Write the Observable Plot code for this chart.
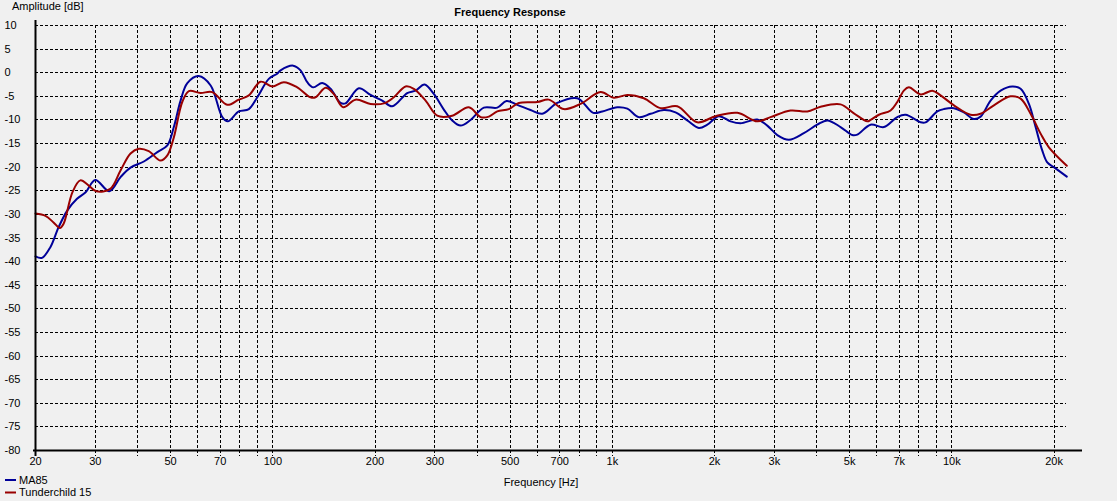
<!DOCTYPE html>
<html><head><meta charset="utf-8">
<script src="https://cdn.jsdelivr.net/npm/d3@7"></script>
<script src="https://cdn.jsdelivr.net/npm/@observablehq/plot@0.6"></script>
<style>
html,body{margin:0;padding:0;background:#f0f0f0;}
#chart{width:1117px;height:501px;}
svg{display:block}
</style></head><body><div id="chart"></div>
<script>
const seriesNames = ["MA85", "Tunderchild 15"];
const seriesColors = ["#000099", "#990000"];

const ma85Freq = [20, 20.9, 22.1, 23.4, 24.8, 26.5, 28.1, 30, 33, 35.6, 38.1, 41.7, 45.7, 48.9, 51.1, 53.5, 56, 60.5, 65.6, 71, 73.7, 79.4, 85, 90, 97.3, 103, 105.4, 114.8, 120.7, 126.3, 131.5, 139.8, 147.9, 158.3, 163.7, 179.2, 194, 210, 224.7, 248.8, 263.2, 279.8, 298, 318.9, 337.6, 357.2, 382.3, 418.4, 458.2, 487.9, 524.7, 574.1, 621.6, 688.2, 788.2, 878.5, 934, 1034, 1107, 1197, 1296, 1418, 1535, 1662, 1798, 1904, 2059, 2229, 2386, 2672, 2860, 3061, 3311, 3664, 4014, 4297, 4700, 5089, 5266, 5761, 6306, 6905, 7305, 8090, 8369, 9057, 9471, 10139, 10850, 11606, 12148, 13002, 13917, 15062, 15938, 16861, 17645, 18464, 19097, 19968, 21800];
const ma85Db = [-38.9, -39.2, -37, -32.7, -29.2, -26.7, -25.3, -22.7, -25.1, -22.1, -20.1, -18.8, -16.8, -15.4, -11.5, -5.9, -2.2, -0.7, -2.7, -9.4, -10.3, -8.2, -7.7, -5.2, -1.3, -0.2, 0.5, 1.5, 0.5, -2, -3.1, -2.2, -3.4, -6.4, -6.5, -3.3, -4.7, -5.9, -7.1, -4.3, -3.8, -2.5, -4.5, -7.8, -10.1, -11.2, -10, -7.4, -7.4, -6, -6.8, -7.9, -8.7, -6.4, -5.4, -8.5, -8.2, -7.3, -7.6, -9.4, -8.7, -7.9, -8.4, -10.1, -11.7, -11, -9.2, -10.3, -10.7, -9.9, -11.2, -13.2, -14.2, -12.8, -11, -10.1, -11.5, -13.2, -13.1, -11, -11.5, -9.4, -8.9, -10.5, -10.5, -8.2, -7.7, -7.5, -8.4, -9.8, -9.3, -5.9, -3.8, -2.9, -3.4, -6.6, -11.5, -16.5, -19, -20, -22];

const tunderFreq = [20, 21.4, 22.6, 23.6, 24.2, 25.7, 27.1, 28.7, 30.2, 33.2, 35.6, 38.1, 40.3, 43.1, 46.7, 48.9, 51.1, 54.1, 56.6, 61.2, 66.3, 73.4, 79.4, 85, 92, 99.6, 107.8, 118, 129.1, 133.6, 143, 151.2, 161.2, 175.2, 194, 212.3, 227.2, 246, 260.2, 281.8, 305, 337.6, 377.8, 409.2, 432.8, 458.2, 495.7, 530.4, 601.1, 650, 719.6, 806, 923.3, 1010, 1107, 1238, 1387, 1553, 1778, 2014, 2334, 2672, 2924, 3348, 3751, 4105, 4700, 5145, 5635, 5761, 6096, 6598, 6905, 7220, 7470, 8090, 8758, 9262, 10139, 11350, 12148, 13296, 14890, 15938, 17056, 18253, 19307, 21800];
const tunderDb = [-29.8, -30.3, -31.7, -32.9, -32, -25.3, -22.8, -23.9, -25.1, -24.6, -20.7, -17.1, -16.1, -16.6, -18.6, -17.5, -13.7, -6.2, -3.9, -4.3, -4.1, -6.8, -5.7, -4.8, -1.9, -2.9, -2, -3.1, -5.2, -5.2, -3.2, -4.5, -7.3, -5.7, -6.6, -6.5, -5.2, -2.9, -3.4, -5.9, -9.1, -9.1, -7.3, -9.4, -9.3, -8.2, -7.7, -6.4, -6.2, -5.7, -7.7, -6.6, -4.1, -5.3, -4.7, -5.4, -7.5, -7.1, -10.5, -9.2, -8.5, -10.3, -9.4, -8, -8.2, -7.2, -6.7, -8.6, -10.3, -10, -8.9, -8, -6.2, -3.8, -3.1, -4.6, -3.8, -4.8, -6.9, -8.9, -8.7, -6.9, -5, -5.5, -8.7, -12.9, -15.8, -19.7];

const yTicks = [10, 5, 0, -5, -10, -15, -20, -25, -30, -35, -40, -45, -50, -55, -60, -65, -70, -75, -80];
const xGrid = [30, 40, 50, 60, 70, 80, 90, 100, 200, 300, 400, 500, 600, 700, 800, 900, 1000, 2000, 3000, 4000, 5000, 6000, 7000, 8000, 9000, 10000, 20000];
const xTickValues = [20, 30, 50, 70, 100, 200, 300, 500, 700, 1000, 2000, 3000, 5000, 7000, 10000, 20000];
const xTickLabels = ["20", "30", "50", "70", "100", "200", "300", "500", "700", "1k", "2k", "3k", "5k", "7k", "10k", "20k"];

const titleText = "Frequency Response";
const xLabelText = "Frequency [Hz]";
const yLabelText = "Amplitude [dB]";

const fMin = 20, fGridMax = 21800, fAxisMax = 24250;
const dbMin = -80, dbMax = 10;

const rows = [
  ...ma85Freq.map((f, i) => ({series: seriesNames[0], f, db: ma85Db[i]})),
  ...tunderFreq.map((f, i) => ({series: seriesNames[1], f, db: tunderDb[i]}))
];

const W = 1117, H = 501;
const font = "'Liberation Sans', Arial, sans-serif";

const svg = Plot.plot({
  width: W, height: H,
  marginLeft: 35, marginRight: 35, marginTop: 25, marginBottom: 51,
  style: {background: "#f0f0f0", fontFamily: font, fontSize: "11px", color: "#000"},
  x: {type: "log", domain: [fMin, fAxisMax], axis: null},
  y: {domain: [dbMin, dbMax], axis: null},
  color: {domain: seriesNames, range: seriesColors},
  marks: [
    Plot.ruleY(yTicks.filter(d => d > dbMin), {y: d => d, x1: fMin, x2: fGridMax, stroke: "#000", strokeWidth: 1, strokeDasharray: "3,2", shapeRendering: "crispEdges"}),
    Plot.ruleX(xGrid, {x: d => d, y1: dbMax, y2: dbMin, insetBottom: -6, stroke: "#000", strokeWidth: 1, strokeDasharray: "3,2", shapeRendering: "crispEdges"}),
    Plot.line(rows, {x: "f", y: "db", z: "series", stroke: "series", strokeWidth: 2, curve: "catmull-rom"}),
    Plot.ruleX([fMin], {y1: dbMax, y2: dbMin, insetTop: -5, insetBottom: -6, stroke: "#000", strokeWidth: 2}),
    Plot.ruleY([dbMin], {x1: fMin, x2: fAxisMax, insetLeft: -2, stroke: "#000", strokeWidth: 2}),
    Plot.text(yTicks, {y: d => d, text: d => String(d), frameAnchor: "left", dx: -31, textAnchor: "start", fill: "#000"}),
    Plot.text(xTickValues, {x: d => d, text: (d, i) => xTickLabels[i], frameAnchor: "bottom", dy: 14, fill: "#000"})
  ]
});

const s = d3.select(svg);
s.append("text").attr("x", 510).attr("y", 13).attr("text-anchor", "middle").attr("dominant-baseline", "middle")
  .attr("font-weight", "bold").attr("font-size", 11).attr("font-family", font).attr("fill", "#000").text(titleText);
s.append("text").attr("x", 12).attr("y", 7).attr("text-anchor", "start").attr("dominant-baseline", "middle")
  .attr("font-size", 11).attr("font-family", font).attr("fill", "#000").text(yLabelText);
s.append("text").attr("x", 541).attr("y", 483).attr("text-anchor", "middle").attr("dominant-baseline", "middle")
  .attr("font-size", 11).attr("font-family", font).attr("fill", "#000").text(xLabelText);

const legend = s.append("g");
seriesNames.forEach((name, i) => {
  const y = 480 + i * 12.5;
  legend.append("line").attr("x1", 5).attr("x2", 16).attr("y1", y).attr("y2", y)
    .attr("stroke", seriesColors[i]).attr("stroke-width", 2);
  legend.append("text").attr("x", 19).attr("y", y + 1).attr("text-anchor", "start").attr("dominant-baseline", "middle")
    .attr("font-size", 11).attr("font-family", font).attr("fill", "#000").text(name);
});

document.getElementById("chart").appendChild(svg);
</script></body></html>
